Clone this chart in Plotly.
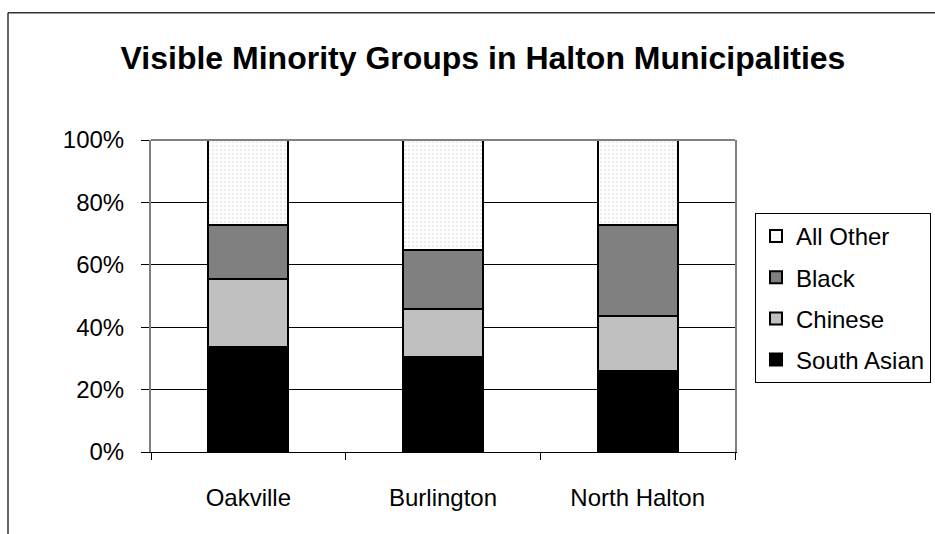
import plotly.graph_objects as go

municipalities = ["Oakville", "Burlington", "North Halton"]
south_asian = [33.6, 30.5, 26.1]
chinese = [21.8, 15.3, 17.4]
black = [17.2, 18.8, 29.3]
all_other = [27.4, 35.4, 27.2]
y_ticks = [0, 20, 40, 60, 80, 100]
y_tick_labels = ["0%", "20%", "40%", "60%", "80%", "100%"]

FONT = "Liberation Sans, Arial, sans-serif"

series = [
    ("South Asian", south_asian, "#000000", None, 4),
    ("Chinese", chinese, "#c0c0c0", None, 3),
    ("Black", black, "#808080", None, 2),
    ("All Other", all_other, "#ffffff", ".", 1),
]

fig = go.Figure()
for name, vals, color, pat, rank in series:
    marker = dict(color=color, line=dict(color="#000000", width=2))
    if pat:
        marker["pattern"] = dict(shape=pat, fgcolor="#d8d8d8", bgcolor="#ffffff", size=4, solidity=0.3)
    fig.add_trace(go.Bar(
        x=municipalities, y=vals, name=name, marker=marker,
        width=0.41, legendgroup=name, legendrank=rank,
    ))

W, H = 935, 534
L, R, T, B = 151, 735, 140, 452.5

def px(x):
    return (x - L) / (R - L)

def py(y):
    return (B - y) / (B - T)

fig.update_layout(
    width=W, height=H,
    barmode="stack",
    paper_bgcolor="white", plot_bgcolor="white",
    margin=dict(l=L, r=W - R, t=T, b=H - B, pad=0, autoexpand=False),
    font=dict(family=FONT, size=24, color="#000000"),
    title=dict(text="<b>Visible Minority Groups in Halton Municipalities</b>",
               x=483 / W, xanchor="center", y=1 - 58 / H, yanchor="middle",
               font=dict(family=FONT, size=32, color="#000000")),
    legend=dict(x=px(755), xanchor="left", y=py(213), yanchor="top",
                traceorder="grouped", tracegroupgap=7,
                bordercolor="#000000", borderwidth=1, bgcolor="white",
                font=dict(family=FONT, size=24, color="#000000"),
                itemwidth=30, entrywidth=150, entrywidthmode="pixels"),
    xaxis=dict(showline=True, linecolor="#000000", linewidth=1,
               ticks="outside", ticklen=7, tickcolor="#000000",
               tickson="boundaries", showgrid=False,
               ticklabelstandoff=24,
               tickfont=dict(family=FONT, size=24, color="#000000")),
    yaxis=dict(range=[0, 100], tickvals=y_ticks, ticktext=y_tick_labels,
               showline=True, linecolor="#808080", linewidth=2, mirror=True,
               ticks="outside", ticklen=8, tickcolor="#000000",
               showgrid=True, gridcolor="#000000", gridwidth=1,
               zeroline=False, ticklabelstandoff=12,
               tickfont=dict(family=FONT, size=24, color="#000000")),
    shapes=[
        dict(type="line", xref="paper", yref="paper", x0=0, x1=1, y0=1, y1=1,
             line=dict(color="#808080", width=2)),
        dict(type="line", xref="paper", yref="paper", x0=px(8), x1=px(936), y0=py(12.5), y1=py(12.5),
             line=dict(color="#333333", width=1.5)),
        dict(type="line", xref="paper", yref="paper", x0=px(8), x1=px(8), y0=py(12.5), y1=py(540),
             line=dict(color="#333333", width=1.5)),
    ],
)

fig.write_html("out.html")
